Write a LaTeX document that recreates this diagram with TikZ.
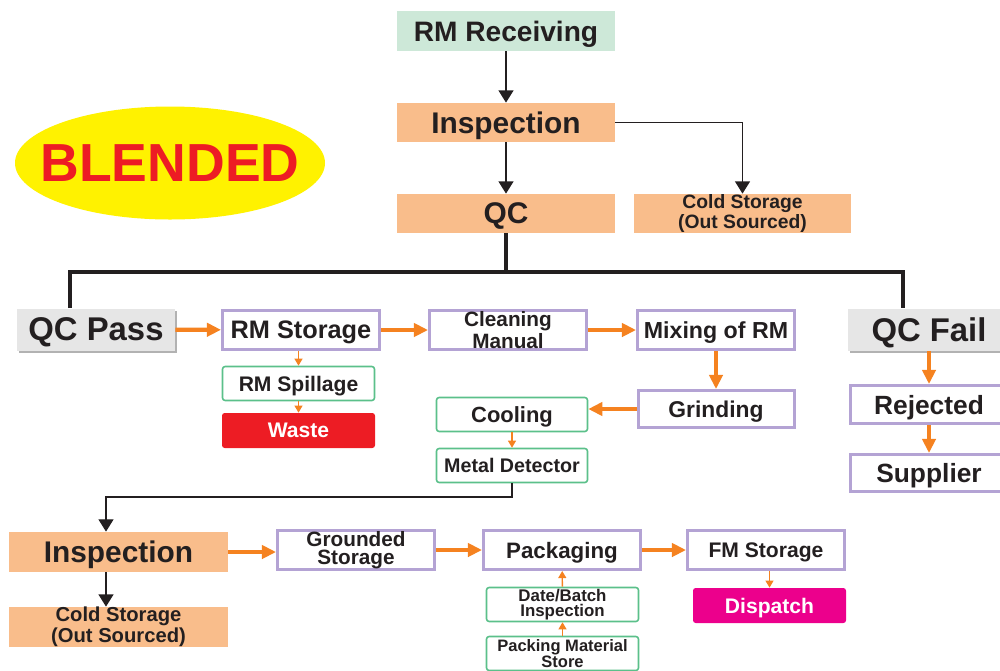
\documentclass[tikz,border=0pt]{standalone}
\usepackage{fontspec}
\setmainfont{Liberation Sans}
\usetikzlibrary{arrows.meta,shadows,shapes.geometric}
\definecolor{ink}{HTML}{231F20}
\definecolor{orfill}{HTML}{F9BD8B}
\definecolor{grfill}{HTML}{CDE8D8}
\definecolor{purp}{HTML}{B4A3D4}
\definecolor{grline}{HTML}{5BC08A}
\definecolor{orarr}{HTML}{F58220}
\definecolor{redbox}{HTML}{ED1C24}
\definecolor{magbox}{HTML}{EC008C}
\definecolor{yel}{HTML}{FFF200}
\definecolor{qcgray}{HTML}{E6E6E6}
\tikzset{
  sz/.style 2 args={minimum width=#1*0.02cm, minimum height=#2*0.02cm},
  fs/.style 2 args={font={\fontsize{#1}{#2}\selectfont\bfseries}},
  one/.style={text depth=0pt},
  base/.style={inner sep=0pt, text=ink, align=center},
  orbox/.style={base, fill=orfill},
  grbox/.style={base, fill=grfill},
  pbox/.style={base, draw=purp, line width=1.7pt, fill=white},
  gline/.style={base, draw=grline, line width=0.9pt, rounded corners=1.5pt, fill=white},
  fillbox/.style={base, rounded corners=1.5pt, text=white},
  qcbox/.style={base, fill=qcgray, drop shadow={shadow xshift=1.2pt, shadow yshift=-1.6pt, fill=black!55, opacity=0.55}},
  darr/.style={draw=ink, line width=0.85pt, -{Triangle[length=7pt,width=8.5pt]}},
  dthin/.style={draw=ink, line width=0.7pt, -{Triangle[length=7pt,width=8.5pt]}},
  oarr/.style={draw=orarr, line width=2.4pt, -{Triangle[length=8pt,width=7.5pt]}},
  tarr/.style={draw=orarr, line width=0.8pt, -{Triangle[length=4pt,width=4.5pt]}},
  bus/.style={draw=ink, line width=2.3pt, line join=miter}
}
\begin{document}
\begin{tikzpicture}[x=0.02cm,y=-0.02cm]
\useasboundingbox (0,0) rectangle (1000,670);
% top chain
\node[grbox, one, sz={218}{40}, fs={16pt}{18pt}] (rmrec) at (506,31) {RM Receiving};
\node[orbox, one, sz={218}{39}, fs={17pt}{19pt}] (insp1) at (506,122.5) {Inspection};
\node[orbox, one, sz={218}{39}, fs={17pt}{19pt}] (qc) at (506,213.5) {QC};
\node[orbox, sz={217}{39}, fs={11pt}{9.8pt}] (cold1) at (742.5,213.5) {Cold Storage\\(Out Sourced)};
\node[ellipse, fill=yel, inner sep=0pt, sz={310}{113}] (blend) at (170,163) {};
\node[one, inner sep=0pt, text=redbox, fs={30.5pt}{32pt}] (blendtxt) at (blend.center) {BLENDED};
% row 2
\node[qcbox, one, sz={158}{42}, fs={18.7pt}{20pt}] (qcpass) at (96,329.5) {QC Pass};
\node[pbox, one, sz={157}{39}, fs={14.4pt}{16pt}] (rmstor) at (301,330) {RM Storage};
\node[pbox, sz={157}{39}, fs={11.8pt}{10.4pt}] (clean) at (508,330) {Cleaning\\Manual};
\node[pbox, one, sz={157}{39}, fs={13.2pt}{15pt}] (mix) at (716,330) {Mixing of RM};
\node[qcbox, one, sz={162}{42}, fs={18.7pt}{20pt}] (qcfail) at (929,329.5) {QC Fail};
\node[pbox, one, sz={157}{38}, fs={15pt}{17pt}] (rej) at (929,404.5) {Rejected};
\node[pbox, one, sz={157}{37}, fs={15pt}{17pt}] (supp) at (929,473) {Supplier};
\node[pbox, one, sz={156}{37}, fs={13pt}{15pt}] (grind) at (716,409) {Grinding};
\node[gline, one, sz={151}{34}, fs={12.5pt}{14pt}] (cool) at (512,414.5) {Cooling};
\node[gline, one, sz={151}{34}, fs={11.2pt}{13pt}] (metal) at (512,465.5) {Metal Detector};
\node[gline, one, sz={152}{34}, fs={12pt}{14pt}] (spill) at (298.5,383.5) {RM Spillage};
\node[fillbox, one, fill=redbox, sz={153}{35}, fs={12pt}{14pt}] (waste) at (298.5,430.5) {Waste};
% bottom
\node[orbox, one, sz={219}{40}, fs={17pt}{19pt}] (insp2) at (118.5,552) {Inspection};
\node[orbox, sz={219}{40}, fs={11.5pt}{10.4pt}] (cold2) at (118.5,627) {Cold Storage\\(Out Sourced)};
\node[pbox, sz={157}{39}, fs={11.8pt}{10.4pt}] (ground) at (356,550) {Grounded\\Storage};
\node[pbox, one, sz={157}{39}, fs={12.7pt}{14pt}] (pack) at (562,550) {Packaging};
\node[pbox, one, sz={157}{39}, fs={12pt}{14pt}] (fm) at (766,550) {FM Storage};
\node[fillbox, one, fill=magbox, sz={153}{35}, fs={12pt}{14pt}] (disp) at (769.5,605.5) {Dispatch};
\node[gline, sz={152}{34}, fs={9.6pt}{8.4pt}] (date) at (562.5,604.5) {Date/Batch\\Inspection};
\node[gline, sz={152}{34}, fs={9.4pt}{8.2pt}] (pms) at (562.5,653.5) {Packing Material\\Store};
% coordinates
\coordinate (busL) at (70,272);
\coordinate (busR) at (903,272);
\coordinate (k1) at (106,497);
% dark connectors
\draw[darr] (rmrec) -- (insp1);
\draw[darr] (insp1) -- (qc);
\draw[darr] (insp1.east) -| (cold1.north);
\draw[bus] (qc.south) -- (qc.south |- busL);
\draw[bus] (qcpass.north -| busL) -- (busL) -- (busR) -- (qcfail.north -| busR);
\draw[dthin] (metal.south) |- (k1) -- (insp2.north -| k1);
\draw[darr] (insp2.south -| k1) -- (cold2.north -| k1);
% thick orange
\draw[oarr] (qcpass) -- (rmstor);
\draw[oarr] (rmstor) -- (clean);
\draw[oarr] (clean) -- (mix);
\draw[oarr] (mix) -- (grind);
\draw[oarr] (grind.west) -- (cool.east |- grind.west);
\draw[oarr] (qcfail.south -| rej) -- (rej.north);
\draw[oarr] (rej) -- (supp);
\draw[oarr] (insp2) -- (ground.west |- insp2);
\draw[oarr] (ground) -- (pack);
\draw[oarr] (pack) -- (fm);
% thin orange
\draw[tarr] (rmstor.south -| spill) -- (spill.north);
\draw[tarr] (spill) -- (waste);
\draw[tarr] (cool) -- (metal);
\draw[tarr] (fm.south -| disp) -- (disp.north);
\draw[tarr] (date) -- (pack);
\draw[tarr] (pms) -- (date);
\end{tikzpicture}
\end{document}
